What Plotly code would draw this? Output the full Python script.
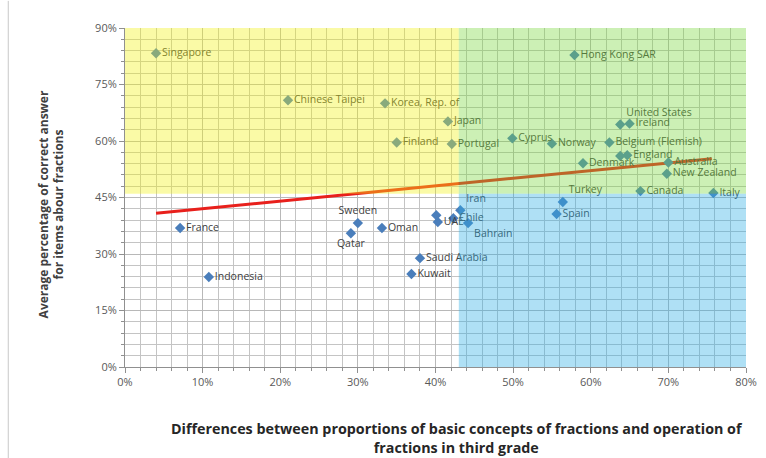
import plotly.graph_objects as go

# ---- data ----
countries = ["Singapore", "Hong Kong SAR", "Chinese Taipei", "Korea, Rep. of", "Japan",
             "Finland", "Portugal", "Cyprus", "Norway", "United States", "Ireland",
             "Belgium (Flemish)", "England", "", "Denmark", "Australia", "New Zealand",
             "Canada", "Italy", "Turkey", "Spain", "Iran", "Chile", "Bahrain", "UAE", "",
             "France", "Indonesia", "Sweden", "Qatar", "Oman", "Saudi Arabia", "Kuwait"]
diff_pct = [4.0, 57.9, 21.0, 33.5, 41.6,
            35.0, 42.1, 49.9, 55.0, 63.8, 65.0,
            62.4, 64.7, 63.8, 59.0, 70.0, 69.8,
            66.4, 75.8, 56.4, 55.6, 43.2, 42.3, 44.2, 40.3, 40.1,
            7.1, 10.8, 30.0, 29.1, 33.1, 38.0, 36.9]
correct_pct = [83.3, 82.8, 70.8, 70.0, 65.2,
               59.6, 59.2, 60.7, 59.3, 64.4, 64.6,
               59.6, 56.2, 56.0, 54.1, 54.3, 51.3,
               46.7, 46.2, 43.8, 40.6, 41.6, 39.5, 38.2, 38.5, 40.3,
               36.9, 23.9, 38.2, 35.5, 36.9, 28.9, 24.7]
trend_x = [4.0, 75.6]
trend_y = [40.8, 55.3]
quad_x_split = 43.0
quad_y_split = 46.0
x_ticks = [0, 10, 20, 30, 40, 50, 60, 70, 80]
y_ticks = [0, 15, 30, 45, 60, 75, 90]
x_tick_labels = ["0%", "10%", "20%", "30%", "40%", "50%", "60%", "70%", "80%"]
y_tick_labels = ["0%", "15%", "30%", "45%", "60%", "75%", "90%"]

# ---- label placement (style) ----
label_pos = {"United States": "top right", "Turkey": "top right", "Iran": "top right",
             "Bahrain": "bottom right", "Sweden": "top center", "Qatar": "bottom center"}
positions = [label_pos.get(c, "middle right") for c in countries]

fig = go.Figure()

fig.add_trace(go.Scatter(
    x=trend_x, y=trend_y, mode="lines",
    line=dict(color="#e8201c", width=3), hoverinfo="skip", showlegend=False))

fig.add_trace(go.Scatter(
    x=diff_pct, y=correct_pct, mode="markers+text",
    text=countries, textposition=positions,
    textfont=dict(family="Open Sans", size=10.5, color="#404040"),
    marker=dict(symbol="diamond", size=8, color="#4a7ebb"),
    showlegend=False, cliponaxis=False))

# coloured quadrants drawn above (translucent) like in the reference
fig.add_shape(type="rect", xref="x", yref="y", x0=0, x1=quad_x_split, y0=quad_y_split, y1=90,
              fillcolor="#f2f214", opacity=0.38, line_width=0, layer="above")
fig.add_shape(type="rect", xref="x", yref="y", x0=quad_x_split, x1=80, y0=quad_y_split, y1=90,
              fillcolor="#78d83c", opacity=0.38, line_width=0, layer="above")
fig.add_shape(type="rect", xref="x", yref="y", x0=quad_x_split, x1=80, y0=0, y1=quad_y_split,
              fillcolor="#2eaee6", opacity=0.38, line_width=0, layer="above")

# left border line of the chart area
fig.add_shape(type="line", xref="paper", yref="paper", x0=-0.188, x1=-0.188, y0=-0.27, y1=1.08,
              line=dict(color="#c8c8c8", width=1))

grid = "#c4c4c4"
fig.update_xaxes(range=[0, 80], tickvals=x_ticks, ticktext=x_tick_labels, automargin=False,
                 showgrid=True, gridcolor="#b8b8b8", gridwidth=1,
                 minor=dict(dtick=2, showgrid=True, gridcolor=grid, ticks="outside", ticklen=3, tickcolor="#909090"),
                 showline=True, linecolor="#909090", ticks="outside", ticklen=5, tickcolor="#909090",
                 tickfont=dict(family="Open Sans", size=11, color="#595959"), zeroline=False)
fig.update_yaxes(range=[0, 90], tickvals=y_ticks, ticktext=y_tick_labels, automargin=False,
                 showgrid=True, gridcolor="#b8b8b8", gridwidth=1,
                 minor=dict(dtick=3, showgrid=True, gridcolor=grid, ticks="outside", ticklen=3, tickcolor="#909090"),
                 showline=True, linecolor="#909090", ticks="outside", ticklen=5, tickcolor="#909090",
                 tickfont=dict(family="Open Sans", size=11, color="#595959"), zeroline=False)

fig.add_annotation(xref="paper", yref="paper", x=-0.119, y=0.48, textangle=-90,
                   xanchor="center", yanchor="middle",
                   text="<b>Average percentage of correct answer<br>for items abour fractions</b>",
                   showarrow=False, font=dict(family="Open Sans", size=12, color="#404040"))
fig.add_annotation(xref="paper", yref="paper", x=0.535, y=-0.208,
                   xanchor="center", yanchor="middle",
                   text="<b>Differences between proportions of basic concepts of fractions and operation of<br>fractions in third grade</b>",
                   showarrow=False, font=dict(family="Open Sans", size=14.3, color="#262626"))

fig.update_layout(width=766, height=458, margin=dict(l=125, r=20, t=28, b=91),
                  paper_bgcolor="white", plot_bgcolor="white")

fig.write_html("out.html", config={"displayModeBar": False},
               post_script="document.body.style.margin='0px';")
